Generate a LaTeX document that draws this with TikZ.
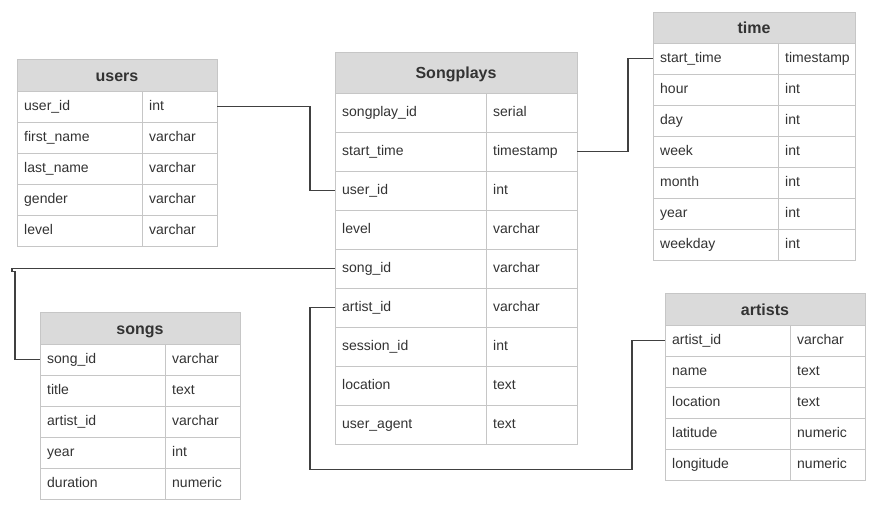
\documentclass[tikz,border=0pt]{standalone}
\usepackage{fontspec}
\setmainfont{Liberation Sans}
\definecolor{cellline}{HTML}{C6C6C6}
\definecolor{hdrfill}{HTML}{DADADA}
\definecolor{txtcol}{HTML}{333333}
\definecolor{conncol}{HTML}{404040}
\tikzset{
  rowcell/.style={draw=cellline, fill=white, line width=1pt, inner sep=0pt, outer sep=0pt, rectangle},
  hdrcell/.style={draw=cellline, fill=hdrfill, line width=1pt, inner sep=0pt, outer sep=0pt, rectangle,
    text=txtcol, font=\bfseries\fontsize{16}{18}\selectfont, text height=13.5pt, text depth=1.5pt},
  celltxt/.style={inner sep=0pt, text=txtcol, font=\fontsize{14}{16}\selectfont, anchor=west,
    text height=10pt, text depth=3pt},
  conn/.style={draw=conncol, line width=1.2pt}
}
% #1 name, #2 x, #3 y, #4 width, #5 divider offset, #6 header h, #7 row h, #8 title, #9 rows
\newcommand{\erdtab}[9]{%
  \node[hdrcell, minimum width=#4pt, minimum height=#6pt, anchor=north west] (#1-h) at (#2,#3) {#8};
  \foreach \f/\t [count=\i] in {#9} {
    \node[rowcell, minimum width=#4pt, minimum height=#7pt, anchor=north west] (#1-\i) at ({#2},{#3+#6+(\i-1)*#7}) {};
    \draw[draw=cellline, line width=1pt] ({#2+#5},{#3+#6+(\i-1)*#7}) -- ++(0,#7);
    \node[celltxt] (#1-\i-k) at ({#2+7},{#3+#6+(\i-0.5)*#7}) {\f};
    \node[celltxt] (#1-\i-v) at ({#2+#5+7},{#3+#6+(\i-0.5)*#7}) {\t};
  }%
}
\begin{document}
\begin{tikzpicture}[x=1pt,y=-1pt]
\useasboundingbox[fill=white] (0,0) rectangle (878,512);

\erdtab{users}{17}{59}{200}{125}{32}{31}{users}{user\_id/int, first\_name/varchar, last\_name/varchar, gender/varchar, level/varchar}
\erdtab{sp}{335}{52}{242}{151}{41}{39}{Songplays}{songplay\_id/serial, start\_time/timestamp, user\_id/int, level/varchar, song\_id/varchar, artist\_id/varchar, session\_id/int, location/text, user\_agent/text}
\erdtab{time}{653}{12}{202}{125}{31}{31}{time}{start\_time/timestamp, hour/int, day/int, week/int, month/int, year/int, weekday/int}
\erdtab{songs}{40}{312}{200}{125}{32}{31}{songs}{song\_id/varchar, title/text, artist\_id/varchar, year/int, duration/numeric}
\erdtab{artists}{665}{293}{200}{125}{32}{31}{artists}{artist\_id/varchar, name/text, location/text, latitude/numeric, longitude/numeric}

\draw[conn] (users-1.east) -- ++(93,0) |- (sp-3.west);
\draw[conn] (sp-2.east) -- ++(51,0) |- (time-1.west);
\draw[conn] (sp-5.west) -- ++(-323,0) -- ++(0,3) -- ++(3,0) |- (songs-1.west);
\draw[conn] (sp-6.west) -- ++(-25,0) -- ++(0,162) -- ++(322,0) |- (artists-1.west);
\end{tikzpicture}
\end{document}
